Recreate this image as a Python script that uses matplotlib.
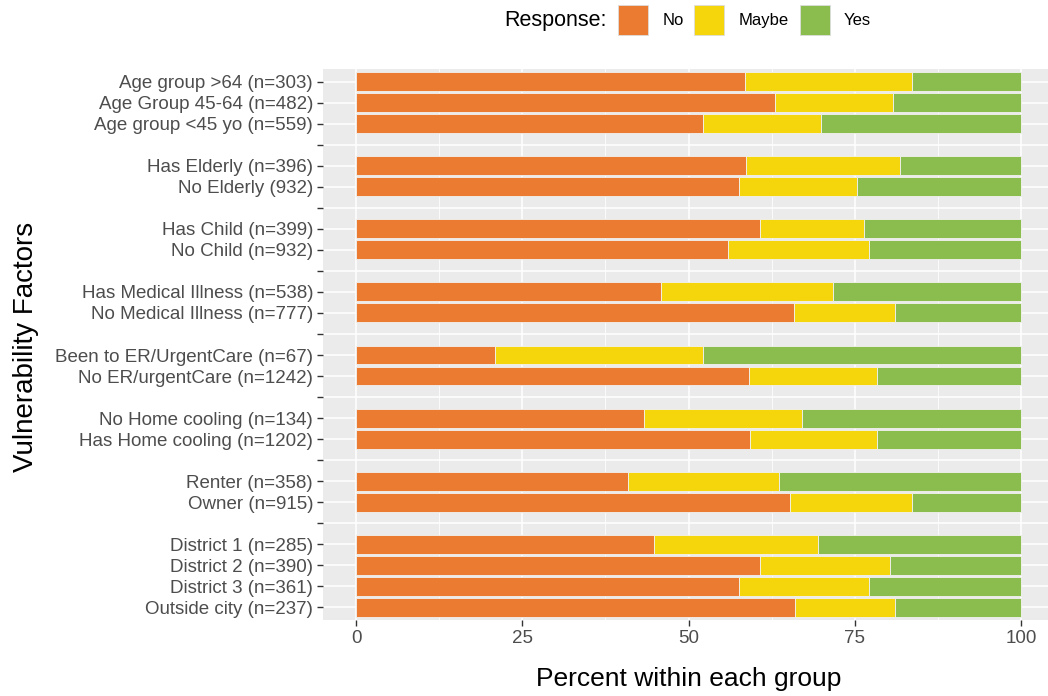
import matplotlib
matplotlib.use("Agg")
import matplotlib.pyplot as plt
from matplotlib.patches import Patch

plt.rcParams['font.family'] = ['Liberation Sans', 'DejaVu Sans']

# groups of labels, top to bottom, separated by a blank row
groups = [
    ["Age group >64 (n=303)", "Age Group 45-64 (n=482)", "Age group <45 yo (n=559)"],
    ["Has Elderly (n=396)", "No Elderly (932)"],
    ["Has Child (n=399)", "No Child (n=932)"],
    ["Has Medical Illness (n=538)", "No Medical Illness (n=777)"],
    ["Been to ER/UrgentCare (n=67)", "No ER/urgentCare (n=1242)"],
    ["No Home cooling (n=134)", "Has Home cooling (n=1202)"],
    ["Renter (n=358)", "Owner (n=915)"],
    ["District 1 (n=285)", "District 2 (n=390)", "District 3 (n=361)", "Outside city (n=237)"],
]

pct_no = [58.5, 63.0, 52.1, 58.7, 57.6, 60.7, 56.0, 45.8, 65.8, 20.9,
          59.1, 43.3, 59.3, 40.9, 65.2, 44.8, 60.8, 57.6, 66.0]
pct_maybe = [25.1, 17.8, 17.8, 23.1, 17.8, 15.7, 21.1, 25.9, 15.2, 31.2,
             19.3, 23.8, 19.1, 22.7, 18.4, 24.7, 19.5, 19.6, 15.1]
pct_yes = [16.4, 19.2, 30.1, 18.2, 24.6, 23.6, 22.9, 28.3, 19.0, 47.9,
           21.6, 32.9, 21.6, 36.4, 16.4, 30.5, 19.7, 22.8, 18.9]

responses = ["No", "Maybe", "Yes"]
colors = ["#EB7B30", "#F5D50C", "#8BBD4E"]

# row layout: labels plus blank separator rows
row_labels = []
for gi, g in enumerate(groups):
    if gi > 0:
        row_labels.append("")
    row_labels.extend(g)
n_rows = len(row_labels)
row_y = [n_rows - 1 - i for i in range(n_rows)]
bar_y = [y for y, lab in zip(row_y, row_labels) if lab != ""]

fig = plt.figure(figsize=(10.48, 6.96), dpi=100)
ax = fig.add_axes([0.308, 0.1092, 0.698, 0.7917])
ax.set_facecolor("#EBEBEB")

left = [0.0] * len(pct_no)
for vals, col in zip([pct_no, pct_maybe, pct_yes], colors):
    ax.barh(bar_y, vals, left=left, height=0.9, color=col,
            edgecolor="#F2F2F2", linewidth=0.6, zorder=3)
    left = [a + b for a, b in zip(left, vals)]

ax.set_xlim(-5, 105)
ax.set_ylim(-0.6, n_rows - 0.4)
ax.set_xticks([0, 25, 50, 75, 100])
ax.set_xticks([12.5, 37.5, 62.5, 87.5], minor=True)
ax.set_yticks(row_y)
ax.set_yticklabels(row_labels)
ax.grid(which="major", color="white", linewidth=1.1, zorder=0)
ax.grid(which="minor", axis="x", color="white", linewidth=0.55, zorder=0)
ax.set_axisbelow(True)
for s in ax.spines.values():
    s.set_visible(False)
ax.tick_params(axis="both", which="major", length=4, width=1, color="#333333",
               labelcolor="#4D4D4D", labelsize=13.5, pad=3)
ax.tick_params(which="minor", length=0)

ax.set_xlabel("Percent within each group", fontsize=19)
ax.set_ylabel("Vulnerability Factors", fontsize=20)
ax.xaxis.set_label_coords(0.5, -0.085)
ax.yaxis.set_label_coords(-0.388, 0.496)

handles = [Patch(facecolor=c, edgecolor="#DDDDDD", linewidth=0.6) for c in colors]
fig.legend(handles, responses, loc="center left", bbox_to_anchor=(0.5897, 0.971),
           ncol=3, frameon=False, fontsize=12, handlelength=1.8, handleheight=2.35,
           columnspacing=0.65, handletextpad=0.85, borderpad=0, borderaxespad=0)
fig.text(0.579, 0.971, "Response:", ha="right", va="center", fontsize=15.5)

fig.savefig("out.png", dpi=100)
